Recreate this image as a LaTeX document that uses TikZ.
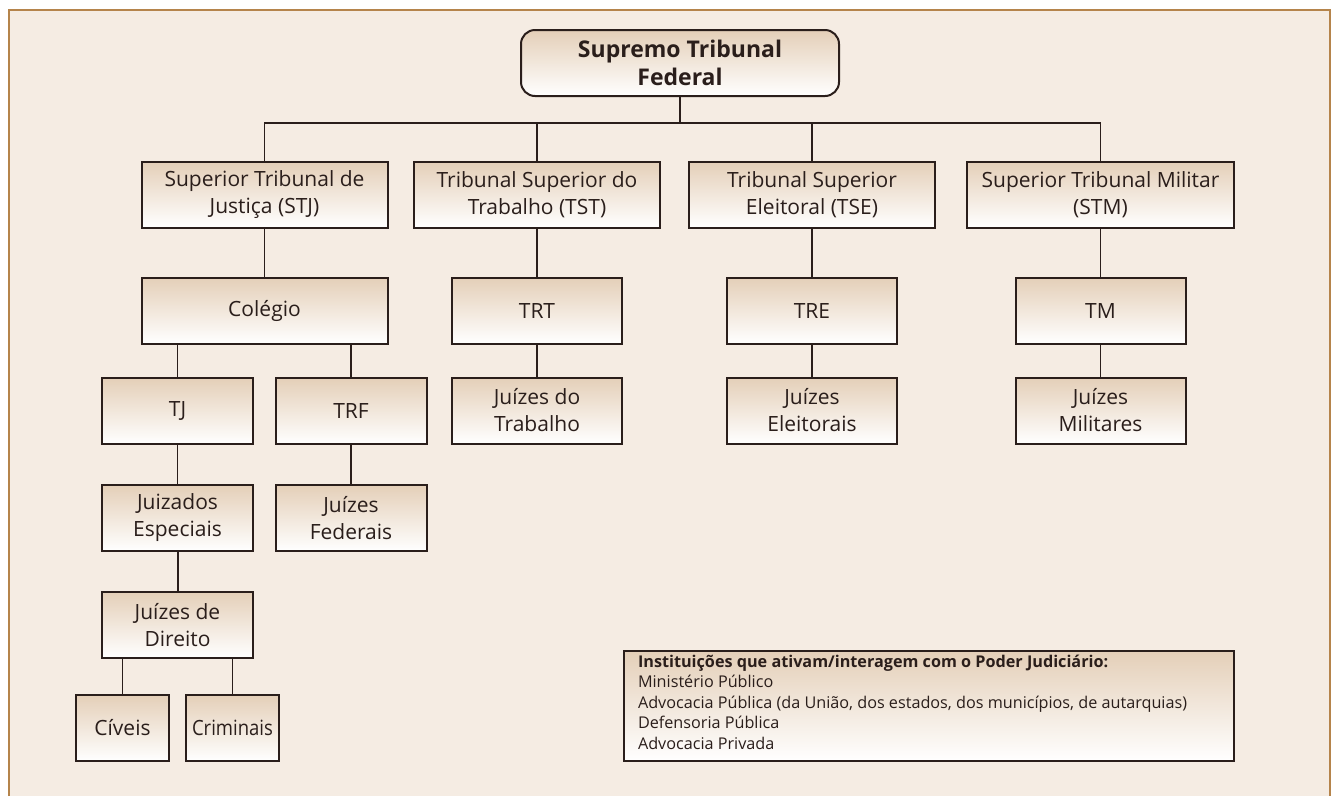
\documentclass[tikz,border=0pt]{standalone}
\usepackage{fontspec}
\setmainfont{Open Sans}
\usepackage{graphicx}
\usepackage{tikz}
\usetikzlibrary{positioning}
\definecolor{papel}{HTML}{F5ECE3}
\definecolor{moldura}{HTML}{B5844B}
\definecolor{bege}{HTML}{E4CFB8}
\definecolor{tinta}{HTML}{2A1E1B}
\tikzset{
    %Define style for boxes
    court/.style={
           rectangle,
           draw=tinta, line width=2pt,
           top color=bege, bottom color=white,
           minimum width=246pt,
           minimum height=66pt,
           inner sep=0pt,
           text=tinta,
           font=\fontsize{21}{27}\selectfont,
           align=center},
    topcourt/.style={
           court,
           rounded corners=14pt,
           minimum width=318pt,
           font=\fontsize{23}{28}\selectfont\bfseries},
    midcourt/.style={
           court,
           minimum width=170pt},
    lowcourt/.style={
           court,
           minimum width=151pt},
    tinycourt/.style={
           court,
           minimum width=93pt},
    notebox/.style={
           rectangle,
           draw=tinta, line width=2pt,
           top color=bege, bottom color=white,
           minimum width=610pt,
           inner xsep=14pt,
           inner ysep=0pt,
           text=tinta,
           font=\fontsize{16.2}{20.5}\selectfont},
    % Define line style
    ramo/.style={
           draw=tinta,
           line width=1.4pt},
}

\begin{document}
\begin{tikzpicture}[x=1pt,y=-1pt,node distance=40pt]

 %frame
\useasboundingbox (0,0) rectangle (1335,796);
\fill[papel] (9,10) rectangle (1330,796);
\draw[moldura, line width=2.5pt] (9,796) -- (9,10) -- (1330,10) -- (1330,796);

 %nodes
\node[topcourt] (stf) at (680,63) {Supremo Tribunal\\Federal};

\node[court] (stj) at (264.5,194.5) {Superior Tribunal de\\Justiça (STJ)};
\node[court] (tst) at (537,194.5) {Tribunal Superior do\\Trabalho (TST)};
\node[court] (tse) at (812,194.5) {Tribunal Superior\\Eleitoral (TSE)};
\node[court, minimum width=267pt] (stm) at (1100.5,194.5) {Superior Tribunal Militar\\(STM)};

\node[court, below=48pt of stj] (colegio) {Colégio};
\node[midcourt, below=48pt of tst] (trt) {TRT};
\node[midcourt, below=48pt of tse] (tre) {TRE};
\node[midcourt, below=48pt of stm] (tm) {TM};

\node[midcourt, below=32pt of trt] (jtrab) {Juízes do\\Trabalho};
\node[midcourt, below=32pt of tre] (jelei) {Juízes\\Eleitorais};
\node[midcourt, below=32pt of tm] (jmil) {Juízes\\Militares};

\node[lowcourt] (tj) at (177.5,411) {TJ};
\node[lowcourt] (trf) at (351,411) {TRF};
\node[lowcourt, below=39pt of tj] (juizados) {Juizados\\Especiais};
\node[lowcourt, below=39pt of trf] (jfed) {Juízes\\Federais};
\node[lowcourt, below=39pt of juizados] (jdir) {Juízes de\\Direito};

\node[tinycourt] (civeis) at (122.5,728) {Cíveis};
\node[tinycourt] (crim) at (232.5,728) {\scalebox{0.88}[1]{Criminais}};

\node[notebox] (inst) at (929,706) {\parbox[c][110pt][t]{582pt}{\raggedright\vspace*{4pt}%
\textbf{Instituições que ativam/interagem com o Poder Judiciário:}\\
Ministério Público\\
Advocacia Pública (da União, dos estados, dos municípios, de autarquias)\\
Defensoria Pública\\
Advocacia Privada}};

 %lines
\coordinate (bus) at (680,123);
\draw[ramo] (stf) -- (bus);
\draw[ramo] (stj) |- (bus) -| (stm);
\draw[ramo] (tst) -- (tst |- bus);
\draw[ramo] (tse) -- (tse |- bus);

\path[ramo]
    (stj) edge (colegio)
    (tst) edge (trt)
    (tse) edge (tre)
    (stm) edge (tm)
    (trt) edge (jtrab)
    (tre) edge (jelei)
    (tm) edge (jmil)
    (tj) edge (juizados)
    (trf) edge (jfed);
\draw[ramo] (tj) -- (tj |- colegio.south);
\draw[ramo] (trf) -- (trf |- colegio.south);
\draw[ramo, line width=2pt] (juizados) -- (jdir);
\draw[ramo] (civeis) -- (civeis |- jdir.south);
\draw[ramo] (crim) -- (crim |- jdir.south);
\end{tikzpicture}
\end{document}
